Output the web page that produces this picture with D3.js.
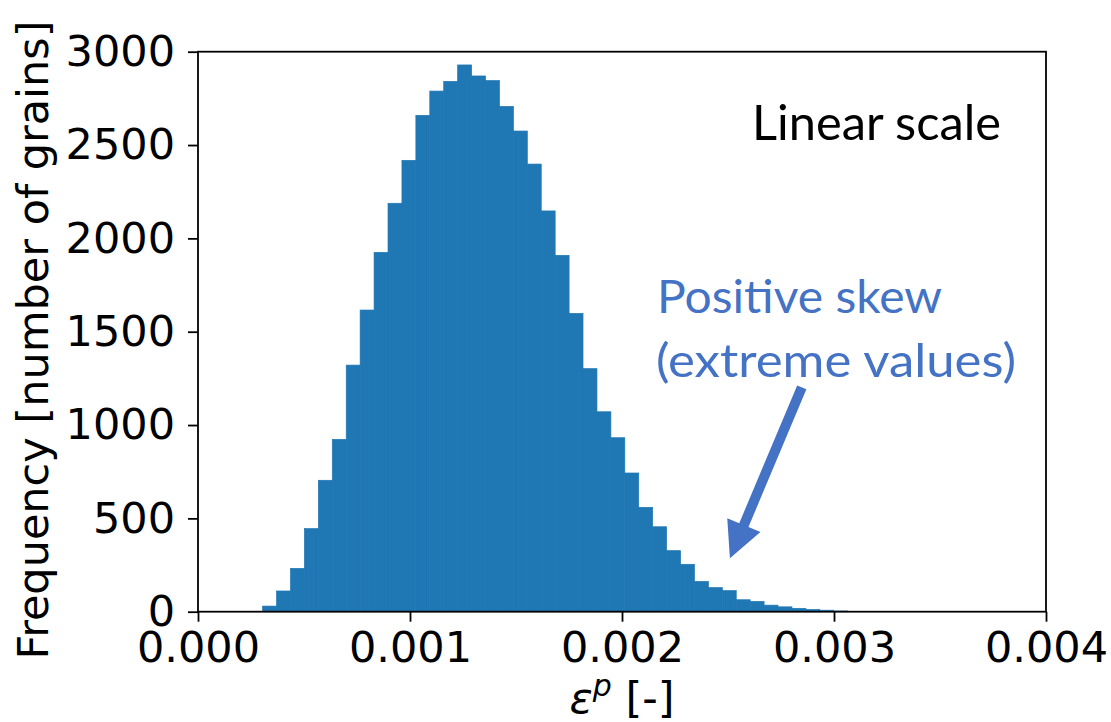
<!DOCTYPE html>
<html>
<head>
<meta charset="utf-8">
<script src="https://cdn.jsdelivr.net/npm/d3@7"></script>
<style>
  html, body { margin: 0; padding: 0; background: #fff; }
  svg { display: block; }
</style>
</head>
<body>
<svg id="chart" width="1111" height="722"></svg>
<script>
// ---- data ----
const binStart = 0.000305;          // left edge of first bin
const binWidth = 0.0000657;         // bin width
const counts = [30, 111, 232, 445, 704, 923, 1321, 1616, 1925, 2188, 2418, 2659, 2789, 2841,
                2929, 2870, 2845, 2707, 2575, 2398, 2147, 1909, 1598, 1302, 1071, 932, 743, 559,
                455, 327, 254, 162, 129, 113, 64, 55, 35, 26, 18, 12, 8, 4];
const xTicks = [0.000, 0.001, 0.002, 0.003, 0.004];
const xTickLabels = ["0.000", "0.001", "0.002", "0.003", "0.004"];
const yTicks = [0, 500, 1000, 1500, 2000, 2500, 3000];
const yTickLabels = ["0", "500", "1000", "1500", "2000", "2500", "3000"];
const annoTitle = "Linear scale";
const annoSkew = ["Positive skew", "(extreme values)"];
// arrow in data coordinates: [x, y] tail -> tip
const arrowTail = [0.002848, 1202];
const arrowTip = [0.002509, 286];

const bins = counts.map((c, i) => ({x0: binStart + i * binWidth, x1: binStart + (i + 1) * binWidth, n: c}));

// ---- layout ----
const L = 198, R = 1046, T = 51.7, B = 611.7;
const svg = d3.select("#chart");
const x = d3.scaleLinear().domain([0, 0.004]).range([L, R]);
const y = d3.scaleLinear().domain([0, 3000]).range([B, T]);
const tickFont = "DejaVu Sans";
const barColor = "#1f77b4";

// bars
svg.append("g").selectAll("rect").data(bins).join("rect")
  .attr("x", d => x(d.x0))
  .attr("width", d => x(d.x1) - x(d.x0))
  .attr("y", d => y(d.n))
  .attr("height", d => y(0) - y(d.n))
  .attr("fill", barColor)
  .attr("stroke", barColor)
  .attr("stroke-width", 0.7);

// axes
const xAxis = d3.axisBottom(x).tickValues(xTicks).tickFormat((d, i) => xTickLabels[i])
  .tickSize(10).tickPadding(10).tickSizeOuter(0);
const yAxis = d3.axisLeft(y).tickValues(yTicks).tickFormat((d, i) => yTickLabels[i])
  .tickSize(10).tickPadding(13).tickSizeOuter(0);

const gx = svg.append("g").attr("transform", `translate(0,${B})`).call(xAxis);
const gy = svg.append("g").attr("transform", `translate(${L},0)`).call(yAxis);
[gx, gy].forEach(g => {
  g.select(".domain").remove();
  g.selectAll(".tick line").attr("stroke", "#000").attr("stroke-width", 1.8);
  g.selectAll(".tick text").attr("fill", "#000")
    .style("font-family", tickFont).style("font-size", "43px");
});

// spines (full box)
svg.append("rect").attr("x", L).attr("y", T).attr("width", R - L).attr("height", B - T)
  .attr("fill", "none").attr("stroke", "#000").attr("stroke-width", 1.8);

// axis labels
const xl = svg.append("text").attr("x", (L + R) / 2).attr("y", 713)
  .attr("text-anchor", "middle").style("font-family", tickFont).style("font-size", "43px").attr("fill", "#000");
xl.append("tspan").style("font-style", "italic").text("ε");
xl.append("tspan").style("font-style", "italic").style("font-size", "30px").attr("dy", -17).text("p");
xl.append("tspan").attr("dy", 17).text(" [-]");

svg.append("text")
  .attr("transform", `translate(48,340) rotate(-90)`)
  .attr("text-anchor", "middle")
  .style("font-family", tickFont).style("font-size", "43px").attr("fill", "#000")
  .text("Frequency [number of grains]");

// annotations
svg.append("text").attr("x", 752).attr("y", 140)
  .style("font-family", "Lato").style("font-size", "49px").attr("fill", "#000")
  .attr("textLength", 249).attr("lengthAdjust", "spacingAndGlyphs")
  .text(annoTitle);

const blue = "#4472c4";
svg.append("text").attr("x", 657).attr("y", 313)
  .style("font-family", "Lato").style("font-size", "46px").attr("fill", blue)
  .attr("textLength", 285).attr("lengthAdjust", "spacingAndGlyphs")
  .text(annoSkew[0]);
svg.append("text").attr("x", 656).attr("y", 377)
  .style("font-family", "Lato").style("font-size", "46px").attr("fill", blue)
  .attr("textLength", 360).attr("lengthAdjust", "spacingAndGlyphs")
  .text(annoSkew[1]);

// arrow
(function () {
  const x0 = x(arrowTail[0]), y0 = y(arrowTail[1]);
  const x1 = x(arrowTip[0]), y1 = y(arrowTip[1]);
  const dx = x1 - x0, dy = y1 - y0, len = Math.hypot(dx, dy);
  const ux = dx / len, uy = dy / len, nx = -uy, ny = ux;
  const shaftW = 10, headL = 36, headW = 36;
  const bx = x1 - ux * headL, by = y1 - uy * headL;
  const pts = [
    [x0 + nx * shaftW / 2, y0 + ny * shaftW / 2],
    [bx + nx * shaftW / 2, by + ny * shaftW / 2],
    [bx + nx * headW / 2, by + ny * headW / 2],
    [x1, y1],
    [bx - nx * headW / 2, by - ny * headW / 2],
    [bx - nx * shaftW / 2, by - ny * shaftW / 2],
    [x0 - nx * shaftW / 2, y0 - ny * shaftW / 2]
  ];
  svg.append("polygon").attr("points", pts.map(p => p.join(",")).join(" ")).attr("fill", blue);
})();
</script>
</body>
</html>
